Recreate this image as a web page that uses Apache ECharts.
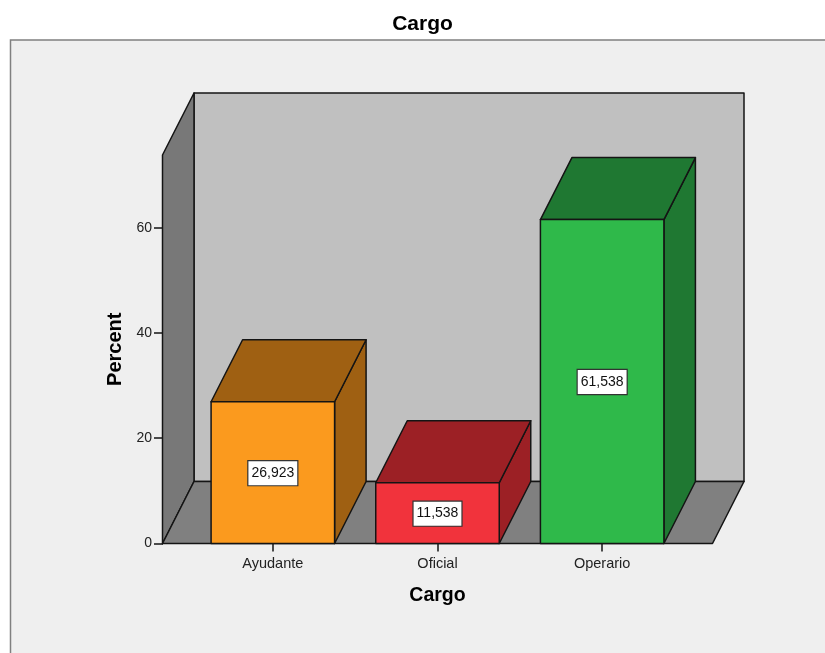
<!DOCTYPE html>
<html>
<head>
<meta charset="utf-8">
<title>Cargo</title>
<script src="https://cdn.jsdelivr.net/npm/echarts@6/dist/echarts.min.js"></script>
<style>
  html, body { margin: 0; padding: 0; background: #fff; }
  #chart { width: 825px; height: 653px; }
</style>
</head>
<body>
<div id="chart"></div>
<script>
// Share of staff per job category
const categories = ['Ayudante', 'Oficial', 'Operario'];
const percents = [26.923, 11.538, 61.538];
const percentTicks = [0, 20, 40, 60];
const percentMax = 73.8;

const faceColors = ['#FB9A1E', '#F1333C', '#2FB94A'];
const shadeColors = ['#9F6012', '#9C2025', '#1F7832'];

// Oblique projection of the box: how far the back plane sits from the front plane
const DEPTH_X = 31.5;
const DEPTH_Y = -62;
const SIDE_MARGIN = 28;
const BAR_RATIO = 0.75;
const EDGE = { stroke: '#141414', lineWidth: 1.5, lineJoin: 'round' };

const poly = (points, fill) => ({
  type: 'polygon',
  shape: { points },
  style: Object.assign({ fill }, EDGE)
});

// Back wall, left wall and floor of the box
function renderFrame(params, api) {
  const band = api.size([1, 0])[0];
  const bottom = api.coord([0, 0])[1];
  const top = api.coord([0, percentMax])[1];
  const left = api.coord([0, 0])[0] - band / 2 - SIDE_MARGIN;
  const right = api.coord([categories.length - 1, 0])[0] + band / 2 + SIDE_MARGIN;
  const shift = ([x, y]) => [x + DEPTH_X, y + DEPTH_Y];
  return {
    type: 'group',
    children: [
      poly([shift([left, top]), shift([right, top]), shift([right, bottom]), shift([left, bottom])], '#C0C0C0'),
      poly([[left, bottom], [left, top], shift([left, top]), shift([left, bottom])], '#787878'),
      poly([[left, bottom], [right, bottom], shift([right, bottom]), shift([left, bottom])], '#808080')
    ]
  };
}

// One box per category: front, top and side faces plus the value tag
function renderBar(params, api) {
  const index = api.value(0);
  const value = api.value(1);
  const band = api.size([1, 0])[0];
  const half = band * BAR_RATIO / 2;
  const [cx, yTop] = api.coord([index, value]);
  const yBase = api.coord([index, 0])[1];
  const x0 = cx - half;
  const x1 = cx + half;
  const face = faceColors[params.dataIndex];
  const shade = shadeColors[params.dataIndex];
  const shift = ([x, y]) => [x + DEPTH_X, y + DEPTH_Y];
  return {
    type: 'group',
    children: [
      poly([[x1, yBase], [x1, yTop], shift([x1, yTop]), shift([x1, yBase])], shade),
      poly([[x0, yTop], [x1, yTop], shift([x1, yTop]), shift([x0, yTop])], shade),
      poly([[x0, yBase], [x0, yTop], [x1, yTop], [x1, yBase]], face),
      {
        type: 'text',
        x: cx,
        y: (yTop + yBase) / 2 + 0.5,
        style: {
          text: value.toFixed(3).replace('.', ','),
          fontFamily: 'Liberation Sans',
          fontSize: 14,
          lineHeight: 16,
          fill: '#111',
          align: 'center',
          verticalAlign: 'middle',
          backgroundColor: '#fff',
          borderColor: '#333',
          borderWidth: 1.2,
          padding: [4, 3]
        }
      }
    ]
  };
}

const chart = echarts.init(document.getElementById('chart'), null, { renderer: 'canvas' });
chart.setOption({
  animation: false,
  backgroundColor: '#fff',
  textStyle: { fontFamily: 'Liberation Sans' },
  title: {
    text: 'Cargo',
    left: 417.5,
    top: 9,
    textAlign: 'center',
    textStyle: { fontFamily: 'Liberation Sans', fontSize: 21, fontWeight: 'bold', color: '#000' }
  },
  graphic: [{
    type: 'rect',
    z: -10,
    shape: { x: 10.5, y: 40, width: 830, height: 630 },
    style: { fill: '#EFEFEF', stroke: '#808080', lineWidth: 1.5 }
  }],
  grid: { left: 190.5, top: 155, width: 494, height: 388.5 },
  xAxis: {
    type: 'category',
    data: categories,
    name: 'Cargo',
    nameLocation: 'middle',
    nameGap: 42,
    nameTextStyle: { fontFamily: 'Liberation Sans', fontSize: 19.5, fontWeight: 'bold', color: '#000' },
    axisLine: { show: false },
    axisTick: { show: true, alignWithLabel: true, length: 8, lineStyle: { color: '#141414', width: 1.5 } },
    axisLabel: { fontFamily: 'Liberation Sans', fontSize: 14.5, color: '#222', margin: 13 }
  },
  yAxis: {
    type: 'value',
    min: 0,
    max: percentMax,
    interval: 20,
    offset: 27.5,
    name: 'Percent',
    nameLocation: 'middle',
    nameGap: 37.5,
    nameTextStyle: { fontFamily: 'Liberation Sans', fontSize: 20, fontWeight: 'bold', color: '#000' },
    splitLine: { show: false },
    axisLine: { show: false },
    axisTick: { show: true, length: 9, customValues: percentTicks, lineStyle: { color: '#141414', width: 1.5 } },
    axisLabel: { fontFamily: 'Liberation Sans', fontSize: 14, color: '#222', margin: 11, customValues: percentTicks }
  },
  series: [
    {
      type: 'custom',
      name: 'frame',
      silent: true,
      z: 1,
      renderItem: renderFrame,
      data: [[0, 0]],
      encode: { x: 0, y: 1 }
    },
    {
      type: 'custom',
      name: 'Percent',
      z: 2,
      renderItem: renderBar,
      data: percents.map((v, i) => [i, v]),
      encode: { x: 0, y: 1 }
    }
  ]
});
</script>
</body>
</html>
